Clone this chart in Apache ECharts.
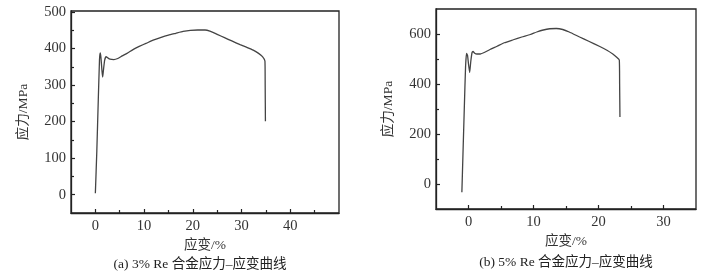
<!DOCTYPE html>
<html><head><meta charset="utf-8">
<script src="https://cdn.jsdelivr.net/npm/echarts@6/dist/echarts.min.js"></script>
<style>html,body{margin:0;padding:0;background:#fff}#c{width:706px;height:276px}</style>
</head><body><div id="c"></div>
<script>
// ---- data ----
const strainA = [0,0.3,0.6,0.85,1.0,1.15,1.35,1.5,1.65,1.9,2.2,2.6,3.0,3.8,4.6,5.5,6.5,7.8,9.0,10.5,12.0,13.5,15.0,16.5,18.0,19.5,21.0,22.5,23.5,25.0,26.5,28.0,29.7,31.0,32.4,33.5,34.3,34.8,34.85,34.9];
const stressA = [4,120,260,370,388,375,340,322,340,368,378,374,371,370,373,380,387,398,406,415,424,431,437,442,447,450,451,451,448,439,430,421,411,404,396,387,378,366,300,201];
const strainB = [-1.02,-0.85,-0.65,-0.45,-0.3,-0.15,0.0,0.18,0.35,0.55,0.7,0.95,1.3,1.8,2.5,3.3,4.4,5.5,6.9,8.2,9.5,10.5,11.5,12.5,13.5,14.5,15.5,17.1,18.5,20.2,21.3,22.2,22.8,23.2,23.25,23.3];
const stressB = [-33,120,300,470,522,515,480,446,490,526,530,523,520,520,527,538,551,565,577,588,598,608,616,621,622,618,608,588,571,550,535,520,507,496,400,268];
const xTicksA = [0,10,20,30,40], xMinorA = [5,15,25,35,45];
const yTicksA = [0,100,200,300,400,500], yMinorA = [50,150,250,350,450];
const xTicksB = [0,10,20,30], xMinorB = [5,15,25];
const yTicksB = [0,200,400,600], yMinorB = [100,300,500];
const xName = '应变/%', yName = '应力/MPa';
const capA = '(a) 3% Re 合金应力–应变曲线', capB = '(b) 5% Re 合金应力–应变曲线';

const FONT = '"Liberation Serif","Noto Sans CJK SC",serif';
const AX = '#222';
function xAx(grid, min, max, major, minor, nameGap) {
  return [
    {type:'value', gridIndex:grid, position:'bottom', min, max,
     name:xName, nameLocation:'middle', nameGap,
     nameTextStyle:{fontFamily:FONT, fontSize:13.5, color:'#333'},
     axisLine:{show:true, onZero:false, lineStyle:{color:AX, width:1.3}},
     axisTick:{show:true, inside:true, length:4, customValues:major, lineStyle:{color:AX, width:1.2}},
     axisLabel:{customValues:major, fontFamily:FONT, fontSize:14.5, color:'#333', margin:6},
     splitLine:{show:false}},
    {type:'value', gridIndex:grid, position:'bottom', min, max,
     axisLine:{show:false, onZero:false},
     axisTick:{show:true, inside:true, length:3, customValues:minor, lineStyle:{color:AX, width:1.2}},
     axisLabel:{show:false, customValues:minor}, splitLine:{show:false}}
  ];
}
function yAx(grid, min, max, major, minor, nameGap) {
  return [
    {type:'value', gridIndex:grid, position:'left', min, max,
     name:yName, nameLocation:'middle', nameGap,
     nameTextStyle:{fontFamily:FONT, fontSize:13.5, color:'#333'},
     axisLine:{show:true, onZero:false, lineStyle:{color:AX, width:1.3}},
     axisTick:{show:true, inside:true, length:4, customValues:major, lineStyle:{color:AX, width:1.2}},
     axisLabel:{customValues:major, fontFamily:FONT, fontSize:14.5, color:'#333', margin:5},
     splitLine:{show:false}},
    {type:'value', gridIndex:grid, position:'left', min, max,
     axisLine:{show:false, onZero:false},
     axisTick:{show:true, inside:true, length:3, customValues:minor, lineStyle:{color:AX, width:1.2}},
     axisLabel:{show:false, customValues:minor}, splitLine:{show:false}}
  ];
}
const chart = echarts.init(document.getElementById('c'), null, {renderer:'canvas'});
chart.setOption({
  backgroundColor:'#fff',
  animation:false,
  grid:[
    {left:71, top:11, width:268, height:202, show:true, borderColor:AX, borderWidth:1.3, backgroundColor:'transparent'},
    {left:436, top:9, width:260, height:200, show:true, borderColor:AX, borderWidth:1.3, backgroundColor:'transparent'}
  ],
  xAxis:[...xAx(0,-5,50,xTicksA,xMinorA,20), ...xAx(1,-5,35,xTicksB,xMinorB,22)],
  yAxis:[...yAx(0,-50,503,yTicksA,yMinorA,41), ...yAx(1,-100,700,yTicksB,yMinorB,41)],
  series:[
    {type:'line', xAxisIndex:0, yAxisIndex:0, data:strainA.map((v,i)=>[v,stressA[i]]),
     showSymbol:false, smooth:0.15, lineStyle:{color:'#444', width:1.3}},
    {type:'line', xAxisIndex:2, yAxisIndex:2, data:strainB.map((v,i)=>[v,stressB[i]]),
     showSymbol:false, smooth:0.15, lineStyle:{color:'#444', width:1.3}}
  ],
  graphic:[
    {type:'text', x:200, y:264, style:{text:capA, font:'13.5px '+FONT, fill:'#222', align:'center', verticalAlign:'middle'}},
    {type:'text', x:566, y:262, style:{text:capB, font:'13.5px '+FONT, fill:'#222', align:'center', verticalAlign:'middle'}}
  ]
});
</script></body></html>
